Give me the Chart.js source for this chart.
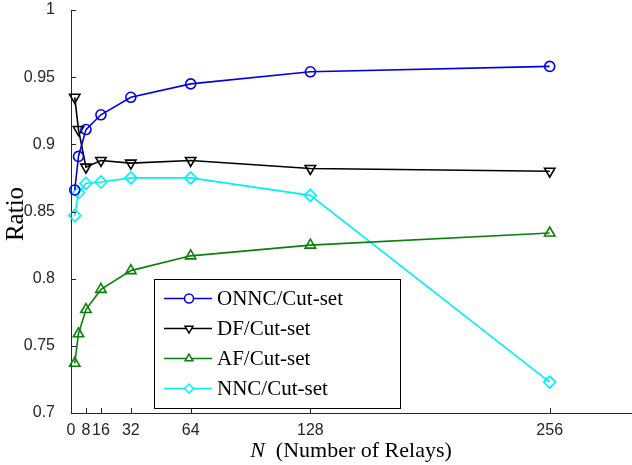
<!DOCTYPE html>
<html>
<head>
<meta charset="utf-8">
<script src="https://cdn.jsdelivr.net/npm/chart.js@4"></script>
<style>
  body { margin: 0; background: #fff; }
</style>
</head>
<body>
<canvas id="ratioChart" width="632" height="465"></canvas>
<script>
const relays = [2, 4, 8, 16, 32, 64, 128, 256];
const onncRatio = [0.866, 0.891, 0.911, 0.922, 0.935, 0.945, 0.954, 0.958];
const dfRatio = [0.935, 0.911, 0.883, 0.888, 0.886, 0.888, 0.882, 0.880];
const afRatio = [0.737, 0.759, 0.777, 0.792, 0.806, 0.817, 0.825, 0.834];
const nncRatio = [0.847, 0.864, 0.871, 0.872, 0.875, 0.875, 0.862, 0.723];
const xTicks = [0, 8, 16, 32, 64, 128, 256];
const yTicks = [0.7, 0.75, 0.8, 0.85, 0.9, 0.95, 1];
const seriesNames = ["ONNC/Cut-set", "DF/Cut-set", "AF/Cut-set", "NNC/Cut-set"];

const axisColor = "#262626";
const serif = "'Liberation Serif', 'Times New Roman', serif";
const sans = "'Liberation Sans', Arial, sans-serif";

function series(label, values, color, style, radius, rotation) {
  return {
    label: label,
    data: relays.map((n, i) => ({ x: n, y: values[i] })),
    borderColor: color,
    borderWidth: 1.6,
    pointStyle: style,
    pointRadius: radius,
    pointRotation: rotation || 0,
    pointBorderColor: color,
    pointBorderWidth: 1.6,
    pointBackgroundColor: "rgba(255,255,255,0)",
    tension: 0,
    fill: false,
    clip: false
  };
}

// MATLAB style ticks pointing inward, plus axis titles and legend box
const decorations = {
  id: "decorations",
  afterDatasetsDraw(chart) {
    const ctx = chart.ctx;
    const x = chart.scales.x;
    const y = chart.scales.y;
    const area = chart.chartArea;

    ctx.save();
    ctx.strokeStyle = axisColor;
    ctx.lineWidth = 1;
    xTicks.forEach(v => {
      const px = Math.round(x.getPixelForValue(v)) + 0.5;
      ctx.beginPath();
      ctx.moveTo(px, area.bottom);
      ctx.lineTo(px, area.bottom - 5);
      ctx.stroke();
    });
    yTicks.forEach(v => {
      const py = Math.round(y.getPixelForValue(v)) + 0.5;
      ctx.beginPath();
      ctx.moveTo(area.left, py);
      ctx.lineTo(area.left + 5, py);
      ctx.stroke();
    });

    // x title with italic N
    ctx.fillStyle = "#000";
    ctx.textBaseline = "alphabetic";
    ctx.textAlign = "left";
    const partA = "N";
    const partB = "  (Number of Relays)";
    ctx.font = "italic 22px " + serif;
    const wA = ctx.measureText(partA).width;
    ctx.font = "22px " + serif;
    const wB = ctx.measureText(partB).width;
    const startX = 351 - (wA + wB) / 2;
    ctx.font = "italic 22px " + serif;
    ctx.fillText(partA, startX, 457);
    ctx.font = "22px " + serif;
    ctx.fillText(partB, startX + wA, 457);

    // y title
    ctx.save();
    ctx.translate(23, 214);
    ctx.rotate(-Math.PI / 2);
    ctx.textAlign = "center";
    ctx.font = "25px " + serif;
    ctx.fillText("Ratio", 0, 0);
    ctx.restore();

    // legend
    const box = { left: 154.5, top: 279.5, w: 246, h: 129 };
    ctx.fillStyle = "#fff";
    ctx.fillRect(box.left, box.top, box.w, box.h);
    ctx.strokeStyle = "#000";
    ctx.strokeRect(box.left, box.top, box.w, box.h);
    chart.data.datasets.forEach((ds, i) => {
      const rowY = 298.5 + i * 30;
      ctx.strokeStyle = ds.borderColor;
      ctx.lineWidth = 1.5;
      ctx.beginPath();
      ctx.moveTo(164, rowY);
      ctx.lineTo(212, rowY);
      ctx.stroke();
      ctx.fillStyle = "#fff";
      Chart.helpers.drawPoint(ctx, {
        pointStyle: ds.pointStyle,
        radius: 4.5,
        rotation: ds.pointRotation,
        borderWidth: 1.5
      }, 189, rowY);
      ctx.fillStyle = "#000";
      ctx.font = "21px " + serif;
      ctx.textAlign = "left";
      ctx.textBaseline = "middle";
      ctx.fillText(ds.label, 217, rowY + 1);
    });
    ctx.restore();
  }
};

new Chart(
  document.getElementById("ratioChart"),
  {
    type: "line",
    data: {
      datasets: [
        series(seriesNames[0], onncRatio, "#0000e6", "circle", 5),
        series(seriesNames[1], dfRatio, "#000000", "triangle", 6, 180),
        series(seriesNames[2], afRatio, "#0a800a", "triangle", 6),
        series(seriesNames[3], nncRatio, "#00f0f5", "rectRot", 6)
      ]
    },
    options: {
      responsive: false,
      animation: false,
      layout: { autoPadding: false, padding: { top: 10, right: 0, left: 0, bottom: 0 } },
      plugins: {
        legend: { display: false },
        tooltip: { enabled: false }
      },
      scales: {
        x: {
          type: "linear",
          min: 0,
          max: 300,
          afterBuildTicks: scale => {
            scale.ticks = xTicks.map(v => ({ value: v }));
          },
          afterFit: scale => {
            scale.height = 52;
            scale.paddingLeft = 0;
            scale.paddingRight = 0;
          },
          grid: { display: false },
          border: { display: true, color: axisColor, width: 1 },
          ticks: {
            color: axisColor,
            font: { family: sans, size: 16 },
            padding: 0,
            maxRotation: 0,
            autoSkip: false
          }
        },
        y: {
          min: 0.7,
          max: 1,
          afterBuildTicks: scale => {
            scale.ticks = yTicks.map(v => ({ value: v }));
          },
          afterFit: scale => {
            scale.width = 71;
            scale.paddingTop = 0;
            scale.paddingBottom = 0;
          },
          grid: { display: false },
          border: { display: true, color: axisColor, width: 1 },
          ticks: {
            color: axisColor,
            font: { family: sans, size: 16 },
            padding: 8,
            callback: v => String(Number(v.toFixed(2)))
          }
        }
      }
    },
    plugins: [decorations]
  }
);
</script>
</body>
</html>
